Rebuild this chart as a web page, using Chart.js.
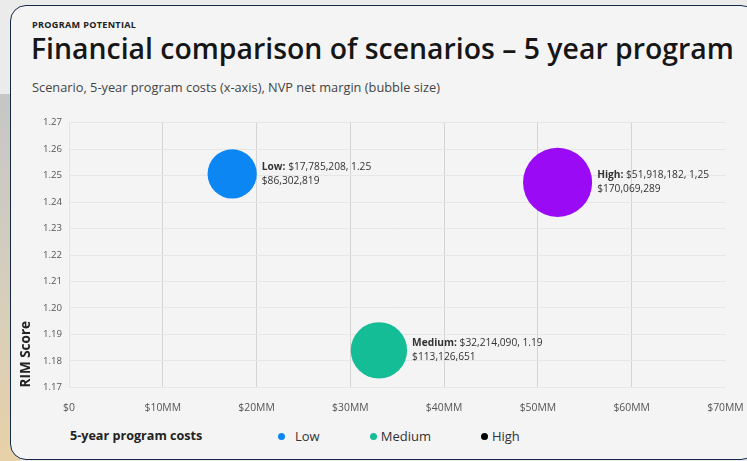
<!DOCTYPE html>
<html>
<head>
<meta charset="utf-8">
<script src="https://cdn.jsdelivr.net/npm/chart.js@4.4.1/dist/chart.umd.min.js"></script>
<style>
  html, body { margin: 0; padding: 0; width: 747px; height: 461px; overflow: hidden; }
  body { position: relative; background: #ebebeb; font-family: "Open Sans", Lato, sans-serif; }
  .strip { position: absolute; left: 0; top: 94px; width: 20px; height: 367px;
    background: linear-gradient(#c5c6c5, #d3cdbf 45%, #e7d1a8); }
  .card { position: absolute; left: 10px; top: 5px; width: 745px; height: 453px;
    background: #f4f4f5; border: 1.5px solid #15294a; border-radius: 16px; }
  .kicker { position: absolute; left: 32px; top: 18px; font-size: 9.1px; font-weight: 700;
    letter-spacing: 0.3px; color: #222; }
  .title { position: absolute; left: 31px; top: 29px; font-size: 28.4px; font-weight: 600;
    color: #161616; white-space: nowrap; }
  .sub { position: absolute; left: 32px; top: 78px; font-size: 12.8px; color: #444; white-space: nowrap; }
  #wrap { position: absolute; left: 0; top: 88px; width: 760px; height: 334px; }
  .xtitle { position: absolute; left: 70px; top: 427px; font-size: 12.6px; font-weight: 700; color: #222; }
  .legend { position: absolute; left: 278px; top: 427px; display: flex; font-size: 13px; color: #333; }
  .legend span.item { display: flex; align-items: center; margin-right: 50px; }
  .legend span.dot { width: 7px; height: 7px; border-radius: 50%; margin-right: 4px; }
  .legend span.item:first-child .dot { margin-right: 10px; }
</style>
</head>
<body>
<div class="strip"></div>
<div class="card"></div>
<div class="kicker">PROGRAM POTENTIAL</div>
<div class="title">Financial comparison of scenarios – 5 year program</div>
<div class="sub">Scenario, 5-year program costs (x-axis), NVP net margin (bubble size)</div>
<div id="wrap"><canvas id="myChart" width="760" height="334"></canvas></div>
<div class="xtitle">5-year program costs</div>
<div class="legend" id="legend"></div>
<script>
// scenarios
const scenarios = ["Low", "Medium", "High"];
const costs = [17400000, 33050000, 52100000];     // bubble centre, x
const scores = [1.2506, 1.184, 1.2474];          // bubble centre, y
const npv = [86302819, 113126651, 170069289];    // bubble size
const costLabels = ["$17,785,208", "$32,214,090", "$51,918,182"];
const scoreLabels = ["1.25", "1.19", "1,25"];
const npvLabels = ["$86,302,819", "$113,126,651", "$170,069,289"];
const bubbleColors = ["#0b86f2", "#14bd95", "#9a0af5"];
const legendColors = ["#0b86f2", "#14bd95", "#000000"];
const xTicks = [0, 10, 20, 30, 40, 50, 60, 70];   // $MM
const yTicks = [1.17, 1.18, 1.19, 1.20, 1.21, 1.22, 1.23, 1.24, 1.25, 1.26, 1.27];

const FONT = "Open Sans";

let legend = document.getElementById("legend");
for (let i = 0; i < scenarios.length; i++) {
  let item = document.createElement("span");
  item.className = "item";
  item.innerHTML = `<span class="dot" style="background:${legendColors[i]}"></span>${scenarios[i]}`;
  legend.append(item);
}

const bubbleLabels = {
  id: "bubbleLabels",
  afterDatasetsDraw(chart) {
    const ctx = chart.ctx;
    ctx.save();
    ctx.fillStyle = "#333";
    ctx.textBaseline = "middle";
    chart.data.datasets.forEach((ds, i) => {
      const el = chart.getDatasetMeta(i).data[0];
      const r = ds.data[0].r;
      const x = el.x + r + 5;
      ctx.font = `bold 10.2px "${FONT}"`;
      const head = scenarios[i] + ": ";
      ctx.fillText(head, x, el.y - 7);
      const w = ctx.measureText(head).width;
      ctx.font = `10.2px "${FONT}"`;
      ctx.fillText(costLabels[i] + ", " + scoreLabels[i], x + w, el.y - 7);
      ctx.fillText(npvLabels[i], x, el.y + 7);
    });
    ctx.restore();
  }
};

const ctx = document.getElementById("myChart").getContext("2d");
const chartObj = {
  type: "bubble",
  data: {
    datasets: scenarios.map((name, i) => ({
      label: name,
      data: [{ x: costs[i], y: scores[i], r: Math.sqrt(npv[i] / 1e6) * 2.65 }],
      backgroundColor: bubbleColors[i],
      borderWidth: 0,
    })),
  },
  options: {
    responsive: false,
    animation: false,
    devicePixelRatio: 1,
    layout: { padding: { left: 0, top: 8, right: 33, bottom: 0 } },
    plugins: { legend: { display: false }, tooltip: { enabled: false } },
    scales: {
      x: {
        type: "linear",
        min: 0,
        max: 70000000,
        afterBuildTicks: (scale) => { scale.ticks = xTicks.map((v) => ({ value: v * 1e6 })); },
        afterFit: (scale) => { scale.height = 33; },
        ticks: {
          padding: 14,
          color: "#555",
          font: { family: FONT, size: 10.4 },
          callback: (v) => (v === 0 ? "$0" : "$" + v / 1e6 + "MM"),
        },
        grid: {
          drawTicks: false,
          color: (c) => (c.tick.value === 0 ? "#e3e3e3" : c.tick.value === 70000000 ? "rgba(0,0,0,0)" : "#d4d4d4"),
        },
        border: { display: false },
      },
      y: {
        type: "linear",
        min: 1.17,
        max: 1.27,
        afterBuildTicks: (scale) => { scale.ticks = yTicks.map((v) => ({ value: v })); },
        afterFit: (scale) => { scale.width = 69; },
        ticks: {
          padding: 7,
          color: "#555",
          font: { family: FONT, size: 9.6 },
          callback: (v) => v.toFixed(2),
        },
        grid: { drawTicks: false, color: "#e6e6e6" },
        border: { display: false },
        title: {
          display: true,
          text: "RIM Score",
          align: "start",
          color: "#222",
          font: { family: FONT, size: 13.5, weight: "bold" },
          padding: { top: 18, bottom: 0 },
        },
      },
    },
  },
  plugins: [bubbleLabels],
};
const myChart = new Chart(ctx, chartObj);
</script>
</body>
</html>
